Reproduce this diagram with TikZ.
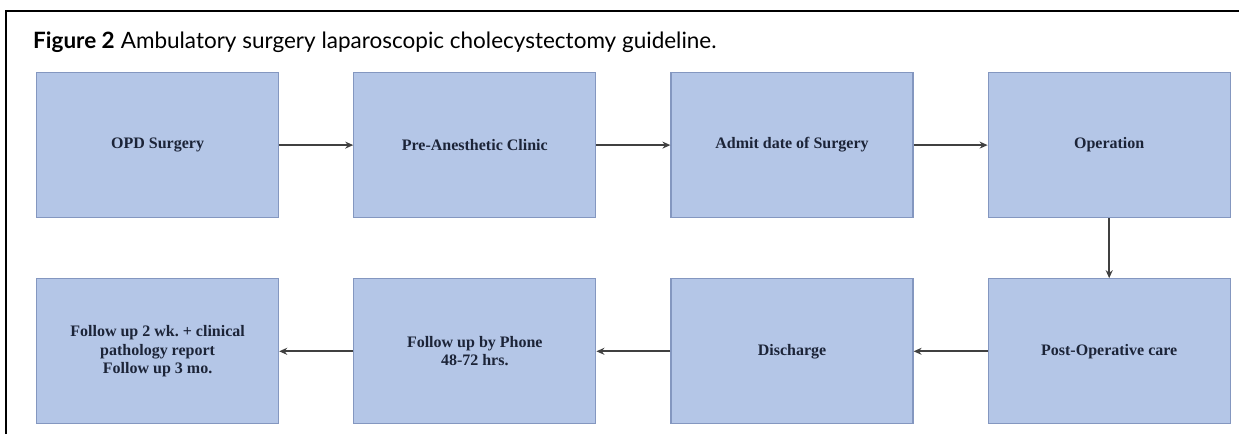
\documentclass[tikz,border=0pt]{standalone}
\usepackage{fontspec}
\setmainfont{Liberation Serif}
\newfontfamily\capfont{Lato}
\usetikzlibrary{positioning,arrows.meta}
\definecolor{boxfill}{HTML}{B4C6E7}
\definecolor{boxline}{HTML}{8497C0}
\definecolor{boxtext}{HTML}{1C2438}
\definecolor{arrowgray}{HTML}{404040}
\frenchspacing
\begin{document}
\begin{tikzpicture}[
		node distance=60pt and 74pt,
		box/.style={draw=boxline, line width=1.2pt, fill=boxfill, align=center, minimum width=242pt, minimum height=145pt, inner sep=0pt, text=boxtext, font=\fontsize{16}{18.5}\selectfont\bfseries},
		arrow/.style={->, >={Stealth[length=8pt, width=7pt]}, line width=2pt, draw=arrowgray}
	]
		\useasboundingbox (0,0) rectangle (1239pt,-434pt);
		\draw[line width=1.5pt] (6pt,-434pt) -- (6pt,-11pt) -- (1239pt,-11pt);
		\node[anchor=base west, inner sep=0pt, font=\capfont\fontsize{22.5}{26}\selectfont] (caption) at (33pt,-48pt) {\textbf{Figure 2}\hspace{6pt}Ambulatory surgery laparoscopic cholecystectomy guideline.};

		\node[box, anchor=north west] (opd) at (36pt,-72pt) {OPD Surgery};
		\node[box, right=of opd] (preanes) {Pre-Anesthetic Clinic};
		\node[box, right=of preanes] (admit) {Admit date of Surgery};
		\node[box, right=of admit] (operation) {Operation};
		\node[box, below=of operation] (postop) {Post-Operative care};
		\node[box, left=of postop] (discharge) {Discharge};
		\node[box, left=of discharge] (phone) {Follow up by Phone\\48-72 hrs.};
		\node[box, left=of phone] (followup) {Follow up 2 wk. + clinical\\pathology report\\Follow up 3 mo.};

		\draw[arrow] (opd) -- (preanes);
		\draw[arrow] (preanes) -- (admit);
		\draw[arrow] (admit) -- (operation);
		\draw[arrow] (operation) -- (postop);
		\draw[arrow] (postop) -- (discharge);
		\draw[arrow] (discharge) -- (phone);
		\draw[arrow] (phone) -- (followup);
	\end{tikzpicture}
\end{document}
